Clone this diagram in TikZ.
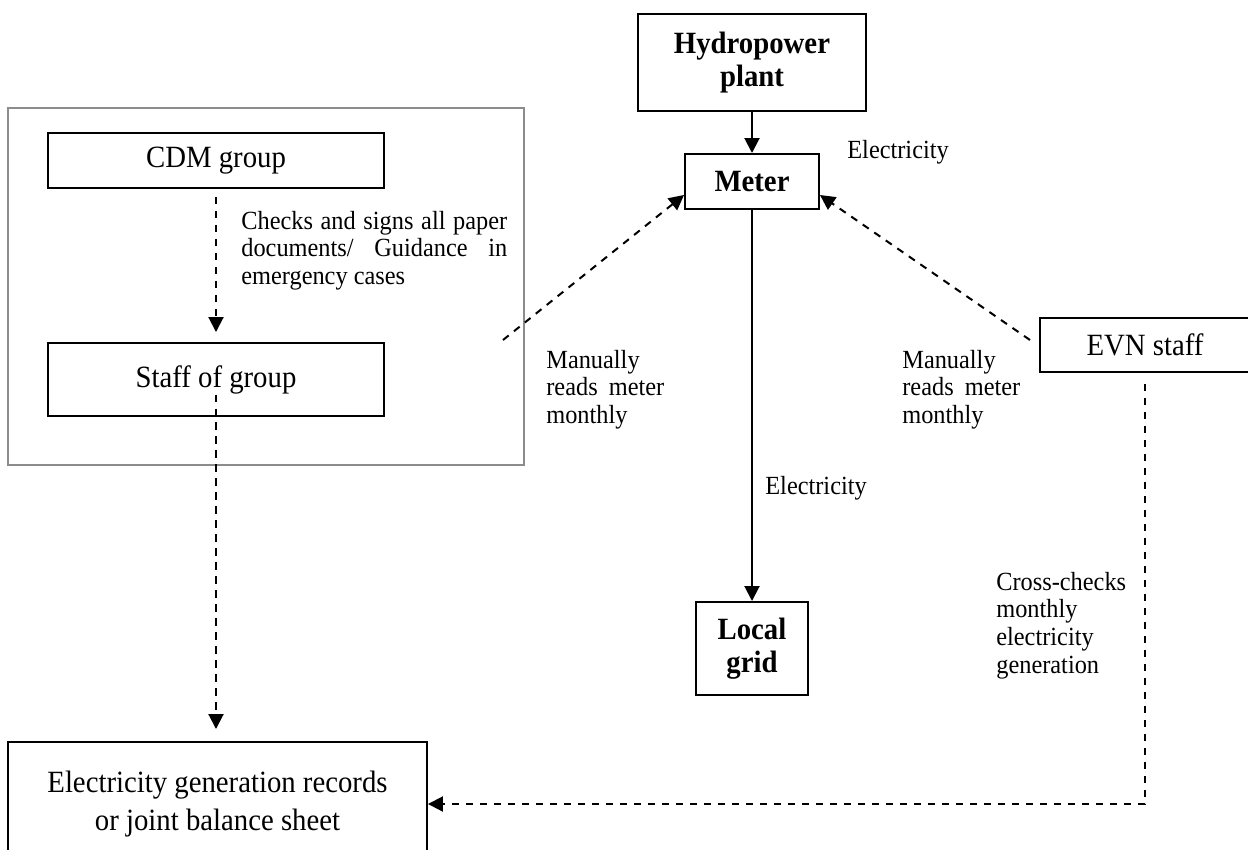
\documentclass[tikz,border=0pt]{standalone}
\usepackage{fontspec}
\setmainfont{Liberation Serif}[FakeStretch=0.93]
\usetikzlibrary{arrows.meta,positioning}
\definecolor{framegray}{RGB}{140,140,140}
\hyphenpenalty=10000
\exhyphenpenalty=10000

\begin{document}
\begin{tikzpicture}[x=0.02cm, y=-0.02cm,
	box/.style={draw, line width=0.04cm, inner sep=0pt, align=center, font=\fontsize{17.6}{19}\selectfont},
	bbox/.style={box, font=\fontsize{17.6}{19}\selectfont\bfseries},
	lbl/.style={inner sep=0pt, font=\fontsize{14.9}{15.9}\selectfont},
	flow/.style={line width=0.04cm, -{Triangle[length=0.3cm,width=0.3cm]}},
	dflow/.style={flow, dash pattern=on 0.146cm off 0.134cm}]
	\useasboundingbox (0,0) rectangle (1248,849);

	\draw[framegray, line width=0.04cm] (8,108) rectangle (524,465);

	\node[bbox, minimum width=4.56cm, minimum height=1.94cm] (hydro) at (752,62.5) {Hydropower\\plant};
	\node[bbox, minimum width=2.68cm, minimum height=1.1cm] (meter) at (752,181.5) {Meter};
	\node[bbox, minimum width=2.26cm, minimum height=1.86cm] (local) at (752,648.5) {Local\\grid};
	\node[box, minimum width=6.72cm, minimum height=1.1cm] (cdm) at (216,160.5) {CDM group};
	\node[box, minimum width=6.72cm, minimum height=1.46cm] (staff) at (216,379.5) {Staff of group};
	\node[box, minimum width=4.2cm, minimum height=1.08cm] (evn) at (1145,345) {EVN staff};
	\node[box, minimum width=8.38cm, minimum height=2.48cm, font=\fontsize{17.6}{21.5}\selectfont] (records) at (217.5,804) {Electricity generation records\\or joint balance sheet};

	\node[lbl, anchor=base west] (elec1) at (847,158) {Electricity};
	\node[lbl, anchor=base west] (elec2) at (765,494) {Electricity};
	\node[lbl, text width=5.32cm, align=justify, anchor=base west] (checks) at (241,229) {Checks and signs all paper documents/ Guidance in emergency cases};
	\node[lbl, text width=2.36cm, align=justify, anchor=base west] (lread) at (546,368) {Manually reads meter monthly};
	\node[lbl, text width=2.36cm, align=justify, anchor=base west] (rread) at (902,368) {Manually reads meter monthly};
	\node[lbl, text width=2.9cm, align=left, anchor=base west] (cross) at (996,590) {Cross-checks\\monthly\\electricity\\generation};

	\coordinate (lfrom) at (503,340);
	\coordinate (rfrom) at (1030,340);

	\draw[flow] (hydro) -- (meter);
	\draw[flow] (meter) -- (local);
	\draw[dflow] (lfrom) -- ([yshift=-0.27cm]meter.west);
	\draw[dflow] (rfrom) -- ([yshift=-0.27cm]meter.east);
	\draw[dflow, shorten <=0.16cm, shorten >=0.2cm] (cdm) -- (staff);
	\draw[dflow, shorten >=0.24cm] ([yshift=-0.3cm]staff.center) -- (staff.center |- records.north);
	\draw[dflow, shorten <=0.22cm] (evn.south) |- (records.east);
\end{tikzpicture}
\end{document}
